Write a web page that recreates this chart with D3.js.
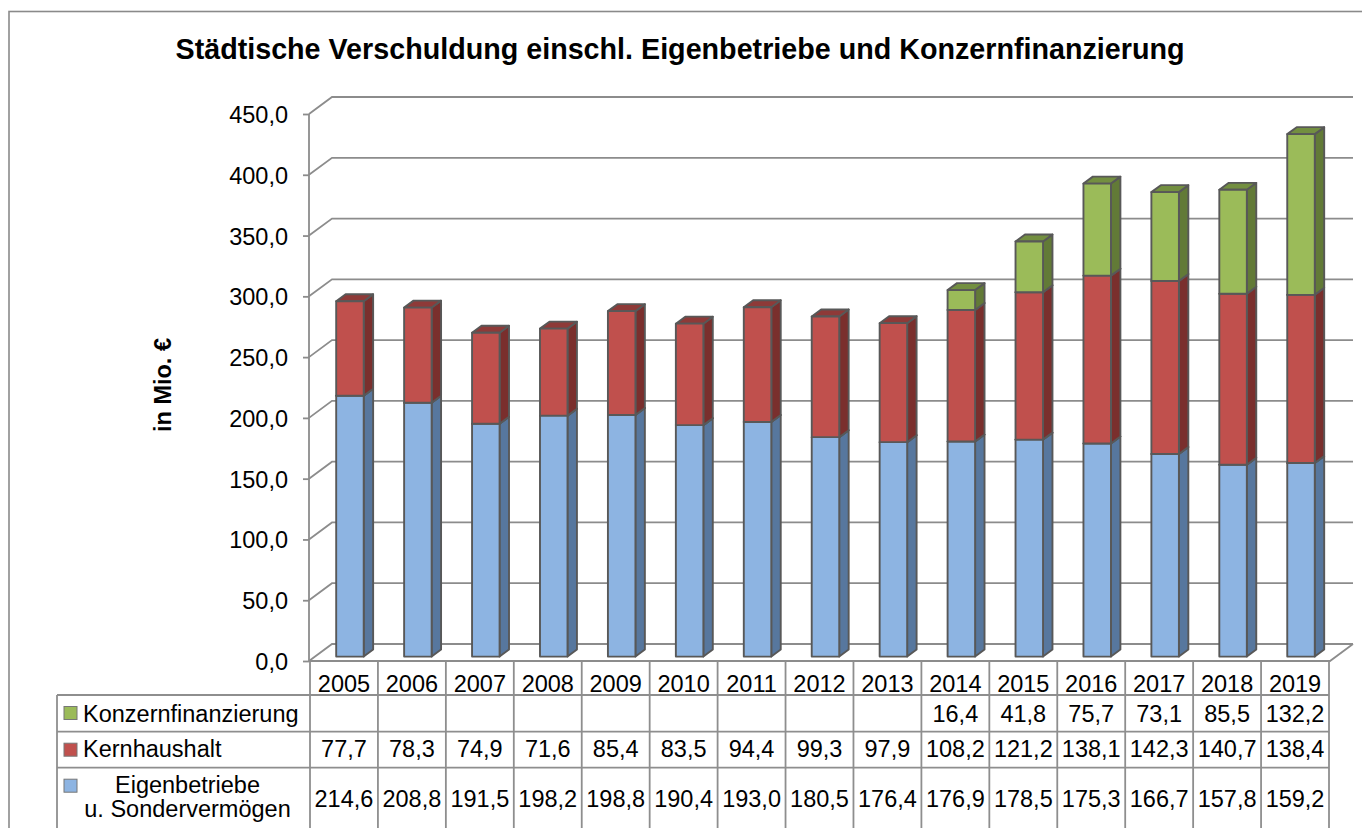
<!DOCTYPE html>
<html>
<head>
<meta charset="utf-8">
<script src="https://cdn.jsdelivr.net/npm/d3@7"></script>
<style>
  body { margin: 0; background: #fff; }
  svg { display: block; font-family: "Liberation Sans", Arial, sans-serif; }
</style>
</head>
<body>
<svg id="chart" width="1362" height="828"></svg>
<script>
// data
const years = ["2005", "2006", "2007", "2008", "2009", "2010", "2011", "2012", "2013", "2014", "2015", "2016", "2017", "2018", "2019"];
const eigenbetriebe = [214.6, 208.8, 191.5, 198.2, 198.8, 190.4, 193.0, 180.5, 176.4, 176.9, 178.5, 175.3, 166.7, 157.8, 159.2];
const kernhaushalt = [77.7, 78.3, 74.9, 71.6, 85.4, 83.5, 94.4, 99.3, 97.9, 108.2, 121.2, 138.1, 142.3, 140.7, 138.4];
const konzernfinanzierung = [null, null, null, null, null, null, null, null, null, 16.4, 41.8, 75.7, 73.1, 85.5, 132.2];
const seriesKeys = ["eigen", "kern", "konzern"];
const seriesLabels = { eigen: ["Eigenbetriebe", "u. Sondervermögen"], kern: ["Kernhaushalt"], konzern: ["Konzernfinanzierung"] };
const yTicks = [0, 50, 100, 150, 200, 250, 300, 350, 400, 450];

const title = "Städtische Verschuldung einschl. Eigenbetriebe und Konzernfinanzierung";
const yTitle = "in Mio. €";

// colours per series: front, side, top
const colors = {
  eigen: { front: "#8db4e2", side: "#57779e", top: "#6f8fb8" },
  kern: { front: "#c0504d", side: "#7a2f2d", top: "#8e3a38" },
  konzern: { front: "#9bbb59", side: "#627a37", top: "#738f40" }
};

const svg = d3.select("#chart");
const fontSize = 23.5;
const gridColor = "#8c8c8c",
  outlineColor = "#585858";

// 3d geometry: floor depth offset and bar depth fraction
const depthX = 23, depthY = -17;
const barT0 = 0.26, barT1 = 0.67;

const x = d3.scaleBand()
  .domain(years)
  .range([310, 1329])
  .paddingInner(0.595)
  .paddingOuter(0.2975);
const y = d3.scaleLinear()
  .domain([0, 450])
  .range([661, 114]);

const xLeft = 309, xRight = x.range()[1] + 1;
const proj = (px, v, t) => [px + t * depthX, y(v) + t * depthY];

// outer frame
svg.append("rect")
  .attr("x", 9).attr("y", 11.5)
  .attr("width", 1400).attr("height", 900)
  .attr("fill", "none")
  .attr("stroke", "#8a8a8a")
  .attr("stroke-width", 1.6);

// title
svg.append("text")
  .attr("x", 680).attr("y", 58.5)
  .attr("text-anchor", "middle")
  .attr("font-size", 28.7)
  .attr("font-weight", "bold")
  .text(title);

// y title
svg.append("text")
  .attr("transform", "translate(171,385) rotate(-90)")
  .attr("text-anchor", "middle")
  .attr("font-size", fontSize)
  .attr("font-weight", "bold")
  .text(yTitle);

// gridlines: side wall diagonal + back wall horizontal
const grid = svg.append("g").attr("class", "grid");
grid.selectAll("polyline")
  .data(yTicks)
  .join("polyline")
  .attr("points", d => [[xLeft, y(d)], [xLeft + depthX, y(d) + depthY], [xRight + depthX, y(d) + depthY]].join(" "))
  .attr("fill", "none")
  .attr("stroke", gridColor)
  .attr("stroke-width", 1.8);

// floor front and right edge
grid.append("polyline")
  .attr("points", [[xLeft, y(0)], [xRight, y(0)], [xRight + depthX, y(0) + depthY]].join(" "))
  .attr("fill", "none")
  .attr("stroke", gridColor)
  .attr("stroke-width", 1.8);

// y axis
const yAxis = svg.append("g")
  .attr("class", "y-axis")
  .attr("transform", `translate(${xLeft},0)`)
  .call(d3.axisLeft(y).tickValues(yTicks).tickSize(6).tickPadding(15)
    .tickFormat(d => d3.format(".1f")(d).replace(".", ",")));
yAxis.select(".domain").attr("stroke", gridColor).attr("stroke-width", 1.8).attr("d", `M0,${y(0)}V${y(450)}`);
yAxis.selectAll(".tick line").attr("stroke", gridColor).attr("stroke-width", 1.8);
yAxis.selectAll(".tick text")
  .attr("font-size", fontSize)
  .attr("font-family", "Liberation Sans, Arial, sans-serif")
  .attr("fill", "#000")
  .attr("dy", "0.36em");

// stacked 3d bars
const rows = years.map((yr, i) => ({
  year: yr,
  eigen: eigenbetriebe[i],
  kern: kernhaushalt[i],
  konzern: konzernfinanzierung[i] || 0
}));
const stacked = d3.stack().keys(seriesKeys)(rows);

const bars = svg.append("g").attr("class", "bars");
const bw = x.bandwidth();
years.forEach((yr, i) => {
  const g = bars.append("g").attr("class", "bar-" + yr);
  stacked.forEach(layer => {
    const [v0, v1] = layer[i];
    if (v1 - v0 <= 0) return;
    const c = colors[layer.key];
    const xl = x(yr), xr = xl + bw;
    const front = [proj(xl, v0, barT0), proj(xr, v0, barT0), proj(xr, v1, barT0), proj(xl, v1, barT0)];
    const side = [proj(xr, v0, barT0), proj(xr, v0, barT1), proj(xr, v1, barT1), proj(xr, v1, barT0)];
    const top = [proj(xl, v1, barT0), proj(xr, v1, barT0), proj(xr, v1, barT1), proj(xl, v1, barT1)];
    [[side, c.side], [top, c.top], [front, c.front]].forEach(([pts, fill]) => {
      g.append("polygon")
        .attr("points", pts.join(" "))
        .attr("fill", fill)
        .attr("stroke", outlineColor)
        .attr("stroke-width", 1.9)
        .attr("stroke-linejoin", "round");
    });
  });
});

// data table
const table = svg.append("g").attr("class", "data-table");
const step = x.step();
const x0 = x.range()[0];
const tableLeft = 57;
const rowTops = [661, 695, 731.7, 767.7];
const tableBottom = 860;
const tableStroke = "#8e8e8e";

// vertical lines
table.selectAll("line.v")
  .data(d3.range(years.length + 1))
  .join("line")
  .attr("class", "v")
  .attr("x1", k => x0 + k * step).attr("x2", k => x0 + k * step)
  .attr("y1", rowTops[0]).attr("y2", tableBottom)
  .attr("stroke", tableStroke).attr("stroke-width", 1.8);
table.append("line")
  .attr("x1", tableLeft).attr("x2", tableLeft)
  .attr("y1", rowTops[1]).attr("y2", tableBottom)
  .attr("stroke", tableStroke).attr("stroke-width", 1.8);
table.selectAll("line.h")
  .data(rowTops.slice(1))
  .join("line")
  .attr("class", "h")
  .attr("x1", tableLeft).attr("x2", x0 + years.length * step)
  .attr("y1", d => d).attr("y2", d => d)
  .attr("stroke", tableStroke).attr("stroke-width", 1.8);

// year header
table.selectAll("text.year")
  .data(years)
  .join("text")
  .attr("class", "year")
  .attr("x", d => x0 + years.indexOf(d) * step + step / 2)
  .attr("y", 692)
  .attr("text-anchor", "middle")
  .attr("font-size", fontSize)
  .text(d => d);

const fmt = v => v == null ? "" : d3.format(".1f")(v).replace(".", ",");
const tableRows = [
  { key: "konzern", values: konzernfinanzierung, base: 722 },
  { key: "kern", values: kernhaushalt, base: 757 },
  { key: "eigen", values: eigenbetriebe, base: 807 }
];
tableRows.forEach((r, ri) => {
  const top = rowTops[ri + 1];
  table.selectAll("text.val-" + r.key)
    .data(r.values)
    .join("text")
    .attr("class", "val-" + r.key)
    .attr("x", (d, i) => x0 + i * step + step / 2)
    .attr("y", r.base)
    .attr("text-anchor", "middle")
    .attr("font-size", fontSize)
    .text(fmt);

  // legend key
  table.append("rect")
    .attr("x", 64).attr("y", top + 11.5)
    .attr("width", 13).attr("height", 13)
    .attr("fill", colors[r.key].front)
    .attr("stroke", "#777")
    .attr("stroke-width", 1);

  const lines = seriesLabels[r.key];
  if (lines.length === 1) {
    table.append("text")
      .attr("x", 83).attr("y", r.base)
      .attr("font-size", fontSize)
      .text(lines[0]);
  } else {
    table.selectAll("text.lbl-" + r.key)
      .data(lines)
      .join("text")
      .attr("class", "lbl-" + r.key)
      .attr("x", 187.5)
      .attr("y", (d, i) => [793.3, 816.7][i])
      .attr("text-anchor", "middle")
      .attr("font-size", fontSize)
      .text(d => d);
  }
});
</script>
</body>
</html>
